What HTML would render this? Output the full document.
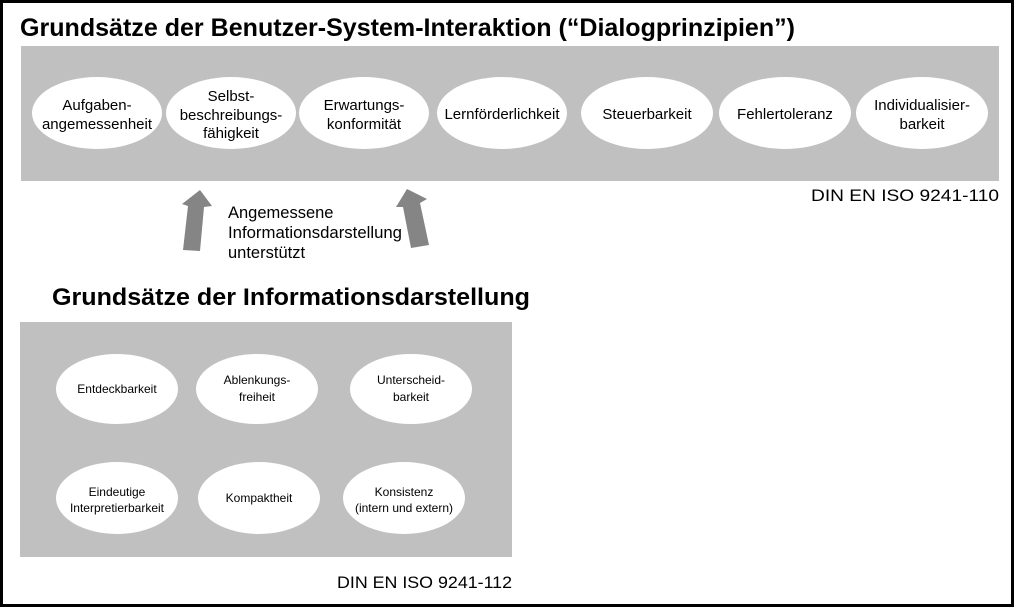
<!DOCTYPE html>
<html><head><meta charset="utf-8"><style>
html,body{margin:0;padding:0;background:#fff}
svg{display:block}
text{font-family:"Liberation Sans",Arial,sans-serif;fill:#000}
</style></head><body>
<svg width="1015" height="608" viewBox="0 0 1015 608" xmlns="http://www.w3.org/2000/svg">
<rect x="1.5" y="1.5" width="1011" height="604" fill="#fff" stroke="#000" stroke-width="3"/>
<text x="20" y="36" font-size="25" font-weight="bold" textLength="775" lengthAdjust="spacingAndGlyphs">Grundsätze der Benutzer-System-Interaktion (“Dialogprinzipien”)</text>
<rect x="21" y="46" width="978" height="135" fill="#c0c0c0"/>
<g fill="#fff">
<ellipse cx="97" cy="113" rx="65" ry="36"/>
<ellipse cx="231" cy="113" rx="65" ry="36"/>
<ellipse cx="364" cy="113" rx="65" ry="36"/>
<ellipse cx="502" cy="113" rx="65" ry="36"/>
<ellipse cx="647" cy="113" rx="66" ry="36"/>
<ellipse cx="785" cy="113" rx="66" ry="36"/>
<ellipse cx="922" cy="113" rx="66" ry="36"/>
</g>
<g font-size="15" text-anchor="middle">
<text x="97" y="110">Aufgaben-</text><text x="97" y="129">angemessenheit</text>
<text x="231" y="101">Selbst-</text><text x="231" y="120">beschreibungs-</text><text x="231" y="138">fähigkeit</text>
<text x="364" y="110">Erwartungs-</text><text x="364" y="129">konformität</text>
<text x="502" y="119">Lernförderlichkeit</text>
<text x="647" y="119">Steuerbarkeit</text>
<text x="785" y="119">Fehlertoleranz</text>
<text x="922" y="110">Individualisier-</text><text x="922" y="129">barkeit</text>
</g>
<text x="811" y="201" font-size="17" textLength="188" lengthAdjust="spacingAndGlyphs">DIN EN ISO 9241-110</text>
<g fill="#858585">
<polygon points="183,250 200,251 204,207 212,206 200,190 182,204 188,206"/>
<polygon points="411,248 429,245 420,203 427,199 407,189 396,207 403,207"/>
</g>
<g font-size="16.5">
<text x="228" y="218">Angemessene</text>
<text x="228" y="238" textLength="174" lengthAdjust="spacingAndGlyphs">Informationsdarstellung</text>
<text x="228" y="258">unterstützt</text>
</g>
<text x="52" y="305" font-size="24" font-weight="bold" textLength="478" lengthAdjust="spacingAndGlyphs">Grundsätze der Informationsdarstellung</text>
<rect x="20" y="322" width="492" height="235" fill="#c0c0c0"/>
<g fill="#fff">
<ellipse cx="117" cy="389" rx="61" ry="35"/>
<ellipse cx="257" cy="389" rx="61" ry="35"/>
<ellipse cx="411" cy="389" rx="61" ry="35"/>
<ellipse cx="117" cy="498" rx="61" ry="36"/>
<ellipse cx="259" cy="498" rx="61" ry="36"/>
<ellipse cx="404" cy="498" rx="61" ry="36"/>
</g>
<g font-size="12" text-anchor="middle">
<text x="117" y="393">Entdeckbarkeit</text>
<text x="257" y="384">Ablenkungs-</text><text x="257" y="401">freiheit</text>
<text x="411" y="384">Unterscheid-</text><text x="411" y="401">barkeit</text>
<text x="117" y="496">Eindeutige</text><text x="117" y="512">Interpretierbarkeit</text>
<text x="259" y="502">Kompaktheit</text>
<text x="404" y="496">Konsistenz</text><text x="404" y="512">(intern und extern)</text>
</g>
<text x="337" y="588" font-size="17" textLength="175" lengthAdjust="spacingAndGlyphs">DIN EN ISO 9241-112</text>
</svg>
</body></html>
